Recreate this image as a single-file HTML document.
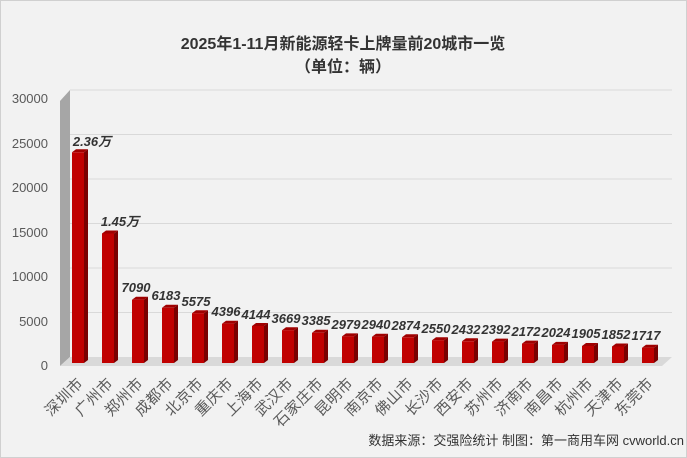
<!DOCTYPE html>
<html><head><meta charset="utf-8"><style>
body{margin:0;background:#fff}
svg{display:block;font-family:"Liberation Sans","Noto Sans CJK SC",sans-serif}
.f{fill:#c00000}.tp{fill:#a00000}.sd{fill:#7a0000}
.v{font-size:13px;font-weight:bold;font-style:italic;fill:#333;text-anchor:middle}
.c{font-size:15px;fill:#595959;text-anchor:end;letter-spacing:0.5px}
</style></head><body>
<svg width="687" height="458" viewBox="0 0 687 458">
<rect x="0.5" y="0.5" width="686" height="457" fill="#f2f2f2" stroke="#d0d0d0"/>
<text x="343" y="49" text-anchor="middle" font-size="16" font-weight="bold" fill="#333">2025年1-11月新能源轻卡上牌量前20城市一览</text>
<text x="343" y="72" text-anchor="middle" font-size="16" font-weight="bold" fill="#333">（单位：辆）</text>
<polygon points="60,101 70,90 70,357 60,366" fill="#a6a6a6"/>
<polygon points="60,366 70,357 672,357 662,366" fill="#d9d9d9"/>
<g stroke="#d9d9d9" stroke-width="1">
<line x1="70" y1="90" x2="672" y2="90"/><line x1="70" y1="134.5" x2="672" y2="134.5"/>
<line x1="70" y1="179" x2="672" y2="179"/><line x1="70" y1="223.5" x2="672" y2="223.5"/>
<line x1="70" y1="268" x2="672" y2="268"/><line x1="70" y1="312.5" x2="672" y2="312.5"/>
</g>
<g font-size="13" fill="#595959" text-anchor="end">
<text x="48" y="103">30000</text><text x="48" y="148">25000</text><text x="48" y="192">20000</text>
<text x="48" y="237">15000</text><text x="48" y="281">10000</text><text x="48" y="326">5000</text><text x="48" y="370">0</text>
</g>

<g transform="translate(72,152.3)"><polygon class="sd" points="12,0 16,-3 16,207.7 12,210.7"/><polygon class="tp" points="0,0 4,-3 16,-3 12,0"/><rect class="f" width="12" height="210.7"/></g>
<g transform="translate(102,233.5)"><polygon class="sd" points="12,0 16,-3 16,126.5 12,129.5"/><polygon class="tp" points="0,0 4,-3 16,-3 12,0"/><rect class="f" width="12" height="129.5"/></g>
<g transform="translate(132,299.7)"><polygon class="sd" points="12,0 16,-3 16,60.3 12,63.3"/><polygon class="tp" points="0,0 4,-3 16,-3 12,0"/><rect class="f" width="12" height="63.3"/></g>
<g transform="translate(162,307.8)"><polygon class="sd" points="12,0 16,-3 16,52.2 12,55.2"/><polygon class="tp" points="0,0 4,-3 16,-3 12,0"/><rect class="f" width="12" height="55.2"/></g>
<g transform="translate(192,313.2)"><polygon class="sd" points="12,0 16,-3 16,46.8 12,49.8"/><polygon class="tp" points="0,0 4,-3 16,-3 12,0"/><rect class="f" width="12" height="49.8"/></g>
<g transform="translate(222,323.7)"><polygon class="sd" points="12,0 16,-3 16,36.3 12,39.3"/><polygon class="tp" points="0,0 4,-3 16,-3 12,0"/><rect class="f" width="12" height="39.3"/></g>
<g transform="translate(252,326)"><polygon class="sd" points="12,0 16,-3 16,34 12,37"/><polygon class="tp" points="0,0 4,-3 16,-3 12,0"/><rect class="f" width="12" height="37"/></g>
<g transform="translate(282,330.2)"><polygon class="sd" points="12,0 16,-3 16,29.8 12,32.8"/><polygon class="tp" points="0,0 4,-3 16,-3 12,0"/><rect class="f" width="12" height="32.8"/></g>
<g transform="translate(312,332.8)"><polygon class="sd" points="12,0 16,-3 16,27.2 12,30.2"/><polygon class="tp" points="0,0 4,-3 16,-3 12,0"/><rect class="f" width="12" height="30.2"/></g>
<g transform="translate(342,336.4)"><polygon class="sd" points="12,0 16,-3 16,23.6 12,26.6"/><polygon class="tp" points="0,0 4,-3 16,-3 12,0"/><rect class="f" width="12" height="26.6"/></g>
<g transform="translate(372,336.7)"><polygon class="sd" points="12,0 16,-3 16,23.3 12,26.3"/><polygon class="tp" points="0,0 4,-3 16,-3 12,0"/><rect class="f" width="12" height="26.3"/></g>
<g transform="translate(402,337.3)"><polygon class="sd" points="12,0 16,-3 16,22.7 12,25.7"/><polygon class="tp" points="0,0 4,-3 16,-3 12,0"/><rect class="f" width="12" height="25.7"/></g>
<g transform="translate(432,340.2)"><polygon class="sd" points="12,0 16,-3 16,19.8 12,22.8"/><polygon class="tp" points="0,0 4,-3 16,-3 12,0"/><rect class="f" width="12" height="22.8"/></g>
<g transform="translate(462,341.3)"><polygon class="sd" points="12,0 16,-3 16,18.7 12,21.7"/><polygon class="tp" points="0,0 4,-3 16,-3 12,0"/><rect class="f" width="12" height="21.7"/></g>
<g transform="translate(492,341.6)"><polygon class="sd" points="12,0 16,-3 16,18.4 12,21.4"/><polygon class="tp" points="0,0 4,-3 16,-3 12,0"/><rect class="f" width="12" height="21.4"/></g>
<g transform="translate(522,343.6)"><polygon class="sd" points="12,0 16,-3 16,16.4 12,19.4"/><polygon class="tp" points="0,0 4,-3 16,-3 12,0"/><rect class="f" width="12" height="19.4"/></g>
<g transform="translate(552,344.9)"><polygon class="sd" points="12,0 16,-3 16,15.1 12,18.1"/><polygon class="tp" points="0,0 4,-3 16,-3 12,0"/><rect class="f" width="12" height="18.1"/></g>
<g transform="translate(582,346)"><polygon class="sd" points="12,0 16,-3 16,14 12,17"/><polygon class="tp" points="0,0 4,-3 16,-3 12,0"/><rect class="f" width="12" height="17"/></g>
<g transform="translate(612,346.5)"><polygon class="sd" points="12,0 16,-3 16,13.5 12,16.5"/><polygon class="tp" points="0,0 4,-3 16,-3 12,0"/><rect class="f" width="12" height="16.5"/></g>
<g transform="translate(642,347.7)"><polygon class="sd" points="12,0 16,-3 16,12.3 12,15.3"/><polygon class="tp" points="0,0 4,-3 16,-3 12,0"/><rect class="f" width="12" height="15.3"/></g>

<text class="v" x="92" y="146">2.36万</text>
<text class="v" x="120" y="226">1.45万</text>
<text class="v" x="136" y="292">7090</text>
<text class="v" x="166" y="300">6183</text>
<text class="v" x="196" y="306">5575</text>
<text class="v" x="226" y="316">4396</text>
<text class="v" x="256" y="319">4144</text>
<text class="v" x="286" y="323">3669</text>
<text class="v" x="316" y="325">3385</text>
<text class="v" x="346" y="329">2979</text>
<text class="v" x="376" y="329">2940</text>
<text class="v" x="406" y="330">2874</text>
<text class="v" x="436" y="333">2550</text>
<text class="v" x="466" y="334">2432</text>
<text class="v" x="496" y="334">2392</text>
<text class="v" x="526" y="336">2172</text>
<text class="v" x="556" y="337">2024</text>
<text class="v" x="586" y="338">1905</text>
<text class="v" x="616" y="339">1852</text>
<text class="v" x="646" y="340">1717</text>

<text class="c" transform="translate(84,384) rotate(-45)">深圳市</text>
<text class="c" transform="translate(114,384) rotate(-45)">广州市</text>
<text class="c" transform="translate(144,384) rotate(-45)">郑州市</text>
<text class="c" transform="translate(174,384) rotate(-45)">成都市</text>
<text class="c" transform="translate(204,384) rotate(-45)">北京市</text>
<text class="c" transform="translate(234,384) rotate(-45)">重庆市</text>
<text class="c" transform="translate(264,384) rotate(-45)">上海市</text>
<text class="c" transform="translate(294,384) rotate(-45)">武汉市</text>
<text class="c" transform="translate(324,384) rotate(-45)">石家庄市</text>
<text class="c" transform="translate(354,384) rotate(-45)">昆明市</text>
<text class="c" transform="translate(384,384) rotate(-45)">南京市</text>
<text class="c" transform="translate(414,384) rotate(-45)">佛山市</text>
<text class="c" transform="translate(444,384) rotate(-45)">长沙市</text>
<text class="c" transform="translate(474,384) rotate(-45)">西安市</text>
<text class="c" transform="translate(504,384) rotate(-45)">苏州市</text>
<text class="c" transform="translate(534,384) rotate(-45)">济南市</text>
<text class="c" transform="translate(564,384) rotate(-45)">南昌市</text>
<text class="c" transform="translate(594,384) rotate(-45)">杭州市</text>
<text class="c" transform="translate(624,384) rotate(-45)">天津市</text>
<text class="c" transform="translate(654,384) rotate(-45)">东莞市</text>

<text x="684" y="445" text-anchor="end" font-size="13" fill="#333">数据来源：交强险统计 制图：第一商用车网 cvworld.cn</text>
</svg>
</body></html>
